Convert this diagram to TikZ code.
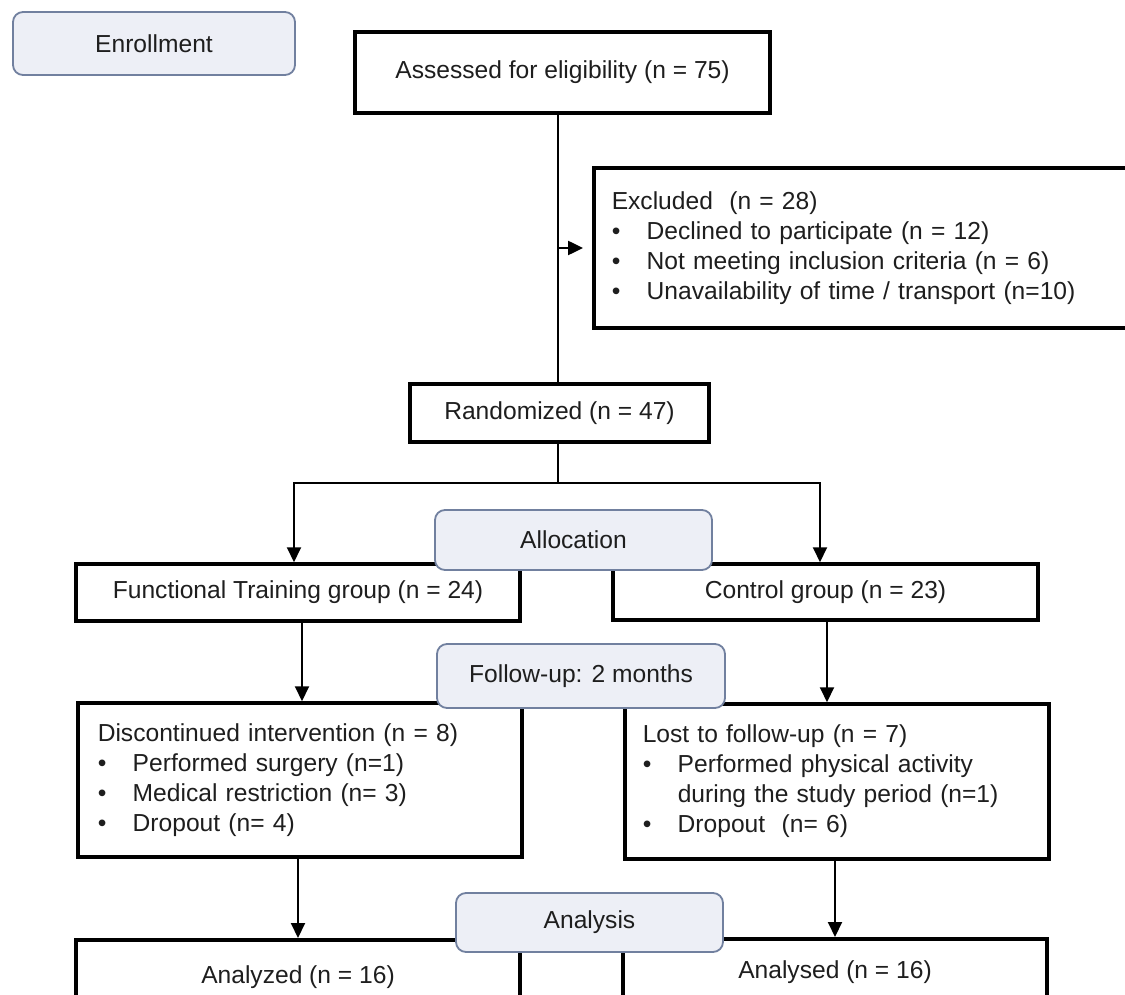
\documentclass[tikz,border=0pt]{standalone}
\usepackage{fontspec}
\setmainfont{Liberation Sans}
\usetikzlibrary{arrows.meta,calc}
\definecolor{phfill}{HTML}{EDEFF6}
\definecolor{phdraw}{HTML}{71809F}
\definecolor{txt}{HTML}{1E1E1E}
\newcommand{\bul}{\makebox[35pt][l]{•}}
\tikzset{
  box/.style={draw=black, line width=3.5pt, fill=white, inner sep=0pt, text=txt,
    font=\fontsize{24.6}{30}\selectfont},
  lst/.style={box, align=left, anchor=west},
  phase/.style={draw=phdraw, line width=1.8pt, fill=phfill, rounded corners=10pt,
    inner sep=0pt, text=txt, font=\fontsize{24.6}{30}\selectfont},
  conn/.style={line width=2pt, draw=black},
  arr/.style={conn, -{Triangle[length=15pt,width=14pt]}}
}
\begin{document}
\begin{tikzpicture}[x=1pt,y={(0pt,-1pt)}]
\useasboundingbox (0,0) rectangle (1125,995);
\clip (0,0) rectangle (1125,995);

% rectangles
\node[box, minimum width=415, minimum height=81] (assess) at (562.5,72.5) {Assessed for eligibility (n = 75)};
\node[lst, minimum width=545, minimum height=160, text width=509, inner xsep=18pt] (excl) at (592,248)
  {Excluded\ \ (n = 28)\\
   \bul Declined to participate (n = 12)\\
   \bul Not meeting inclusion criteria (n = 6)\\
   \bul Unavailability of time / transport (n=10)};
\node[box, minimum width=299, minimum height=58] (rand) at (559.5,413) {Randomized (n = 47)};
\node[box, minimum width=444, minimum height=57] (ft) at (298,592.5) {Functional Training group (n = 24)};
\node[box, minimum width=425, minimum height=56] (ctrl) at (825.5,592) {Control group (n = 23)};
\node[lst, minimum width=444, minimum height=154, text width=404, inner xsep=20pt] (disc) at (76,780)
  {Discontinued intervention (n = 8)\\
   \bul Performed surgery (n=1)\\
   \bul Medical restriction (n= 3)\\
   \bul Dropout (n= 4)};
\node[lst, minimum width=424, minimum height=155, text width=388, inner xsep=18pt] (lost) at (623,781.5)
  {Lost to follow-up (n = 7)\\
   \bul Performed physical activity\\
   \hspace*{35pt}during the study period (n=1)\\
   \bul Dropout\ \ (n= 6)};
\node[box, anchor=north, minimum width=444, minimum height=74] (ana1) at (298,938) {Analyzed (n = 16)};
\node[box, anchor=north, minimum width=424, minimum height=66] (ana2) at (835,937) {Analysed (n = 16)};

% connectors
\coordinate (split) at (557.5,483);
\draw[conn] (assess.south -| split) -- (split |- rand.north);
\draw[arr, line width=2.5pt, shorten >=9pt] (excl.west -| split) -- (excl.west);
\draw[conn] (split |- rand.south) -- (split);
\draw[arr] (split) -| ([xshift=-4pt]ft.north);
\draw[arr] (split) -| ([xshift=-5.5pt]ctrl.north);
\draw[arr] ([xshift=4pt]ft.south) -- ([xshift=4pt]ft.south |- disc.north);
\draw[arr] ([xshift=1.5pt]ctrl.south) -- ([xshift=1.5pt]ctrl.south |- lost.north);
\draw[arr] (disc.south -| ana1.north) -- (ana1.north);
\draw[arr] (lost.south -| ana2.north) -- (ana2.north);

% phase labels
\node[phase, minimum width=282, minimum height=63] (enr) at (154,43.5) {Enrollment};
\node[phase, minimum width=277, minimum height=60] (alloc) at (573.5,540) {Allocation};
\node[phase, minimum width=288, minimum height=64] (fup) at (581,676) {Follow-up: 2 months};
\node[phase, minimum width=267, minimum height=59] (anal) at (589.5,922.5) {Analysis};
\end{tikzpicture}
\end{document}
